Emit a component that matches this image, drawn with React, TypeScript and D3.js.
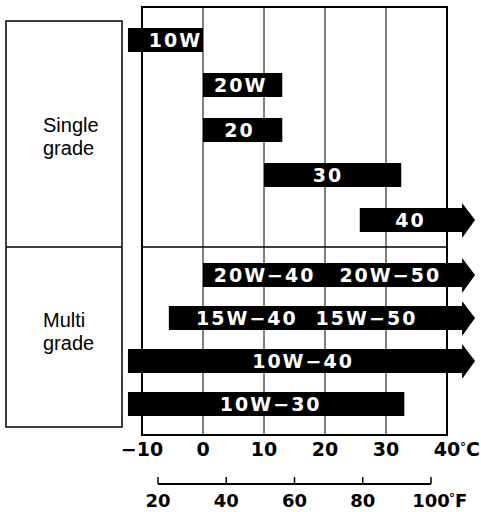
import React from "react";
import * as d3 from "d3";

// ---- data ----
const grades = ["10W", "20W", "20", "30", "40", "20W-40/20W-50", "15W-40/15W-50", "10W-40", "10W-30"];
const groups = ["single", "single", "single", "single", "single", "multi", "multi", "multi", "multi"];
const lowC = [-12.3, 0, 0, 10, 25.7, 0, -5.6, -12.3, -12.3];
const highC = [0, 13, 13, 32.5, 44.6, 44.6, 44.6, 44.6, 33];
const openEnded = [false, false, false, false, true, true, true, true, false];
const barLabels = [["10W"], ["20W"], ["20"], ["30"], ["40"], ["20W−40", "20W−50"], ["15W−40", "15W−50"], ["10W−40"], ["10W−30"]];
const labelPosC = [[-4.5], [6.2], [6], [20.5], [34], [10.1, 30.7], [7.2, 26.8], [16.4], [11.1]];
const groupNames = [["Single", "grade"], ["Multi", "grade"]];
const celsiusTicks = [-10, 0, 10, 20, 30, 40];
const celsiusLabels = ["−10", "0", "10", "20", "30", "40"];
const fahrenheitTicks = [20, 40, 60, 80, 100];
const fahrenheitLabels = ["20", "40", "60", "80", "100"];

export default function App() {
  const W = 481, H = 512;
  const x = d3.scaleLinear().domain([-10, 40]).range([142, 447]);
  const xf = d3.scaleLinear().domain([20, 100]).range([158, 431]);
  const ySingle = d3.scaleLinear().domain([0, 4]).range([40, 220]);
  const yMulti = d3.scaleLinear().domain([0, 3]).range([275, 404]);
  const bh = 24;
  let si = 0, mi = 0;
  const rowY = groups.map((g) => (g === "single" ? ySingle(si++) : yMulti(mi++)));

  const frameTop = 7, frameBottom = 435, divider = 247;
  const font = "'Liberation Sans', Arial, Helvetica, sans-serif";
  const wide = "'DejaVu Sans', Verdana, sans-serif";

  return (
    <svg width={W} height={H} style={{ position: "absolute", left: 0, top: 0, background: "#fff" }}>
      {/* left group box */}
      <rect x={6} y={21} width={116} height={406} fill="none" stroke="#000" strokeWidth={1.5} />
      <line x1={6} x2={122} y1={divider} y2={divider} stroke="#000" strokeWidth={1.5} />
      {groupNames.map((lines, gi) => (
        <text key={gi} x={43} y={gi === 0 ? 132 : 327} fontFamily={font} fontSize={20} fill="#000">
          {lines.map((l, li) => (
            <tspan key={li} x={43} dy={li === 0 ? 0 : 23}>{l}</tspan>
          ))}
        </text>
      ))}

      {/* gridlines */}
      {celsiusTicks.slice(1, -1).map((t) => (
        <line key={t} x1={x(t)} x2={x(t)} y1={frameTop} y2={frameBottom} stroke="#000" strokeWidth={1} />
      ))}
      <line x1={x(-10)} x2={x(40)} y1={divider} y2={divider} stroke="#000" strokeWidth={1.5} />
      <rect x={x(-10)} y={frameTop} width={x(40) - x(-10)} height={frameBottom - frameTop} fill="none" stroke="#000" strokeWidth={2} />

      {/* bars */}
      {grades.map((g, i) => {
        const y0 = rowY[i] - bh / 2;
        const xs = x(lowC[i]);
        const xe = x(highC[i]);
        let d;
        if (openEnded[i]) {
          const headBase = xe - 13;
          d = `M${xs},${y0}H${headBase}V${y0 - 5}L${xe},${rowY[i]}L${headBase},${y0 + bh + 6}V${y0 + bh}H${xs}Z`;
        } else {
          d = `M${xs},${y0}H${xe}V${y0 + bh}H${xs}Z`;
        }
        return (
          <g key={g}>
            <path d={d} fill="#000" />
            {barLabels[i].map((lab, k) => (
              <text key={k} x={x(labelPosC[i][k])} y={rowY[i] + 7} textAnchor="middle" fontFamily={wide}
                fontWeight="bold" fontSize={19} letterSpacing={2} fill="#fff">{lab}</text>
            ))}
          </g>
        );
      })}

      {/* celsius labels */}
      {celsiusTicks.map((t, i) => (
        <text key={t} x={x(t)} y={456} textAnchor="middle" fontFamily={wide} fontWeight="bold" fontSize={19} fill="#000">
          {celsiusLabels[i]}
        </text>
      ))}
      <text x={x(40) + 13} y={456} fontFamily={wide} fontWeight="bold" fontSize={19} fill="#000">
        <tspan fontSize={12} dy={-5}>°</tspan><tspan dy={5}>C</tspan>
      </text>

      {/* fahrenheit axis */}
      <line x1={xf(20)} x2={xf(100)} y1={484} y2={484} stroke="#000" strokeWidth={2} />
      {fahrenheitTicks.map((t, i) => (
        <g key={t}>
          <line x1={xf(t)} x2={xf(t)} y1={477} y2={484} stroke="#000" strokeWidth={1.5} />
          <text x={xf(t)} y={507} textAnchor="middle" fontFamily={wide} fontWeight="bold" fontSize={18} fill="#000">
            {fahrenheitLabels[i]}
          </text>
        </g>
      ))}
      <text x={xf(100) + 18} y={507} fontFamily={wide} fontWeight="bold" fontSize={18} fill="#000">
        <tspan fontSize={12} dy={-5}>°</tspan><tspan dy={5}>F</tspan>
      </text>
    </svg>
  );
}
